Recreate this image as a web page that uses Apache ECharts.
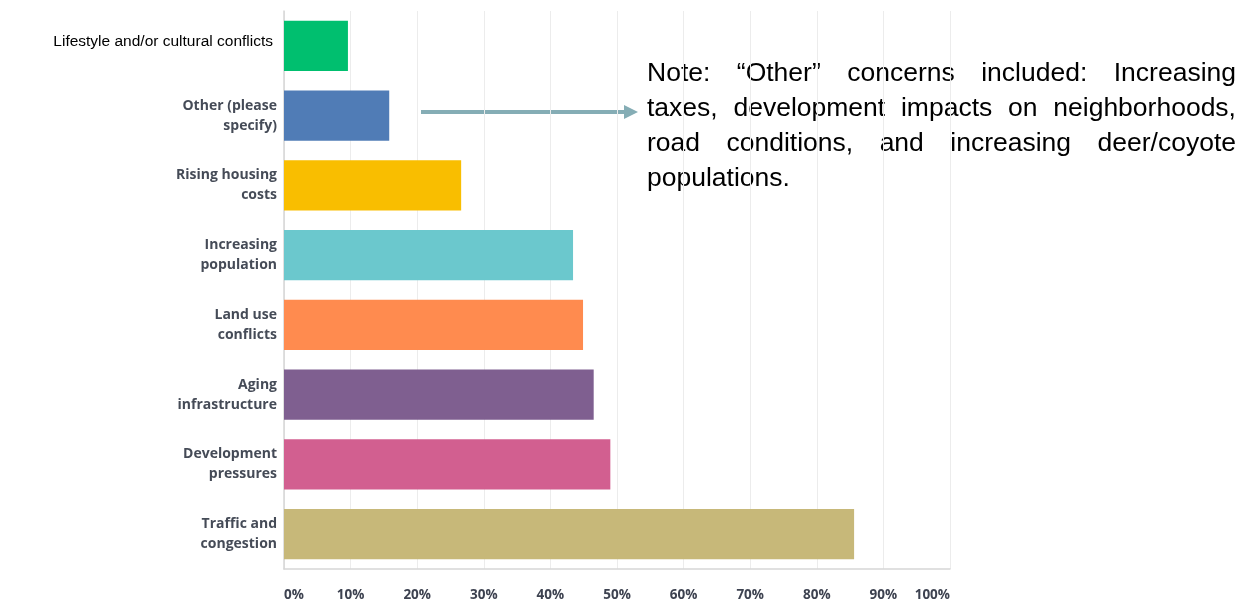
<!DOCTYPE html>
<html>
<head>
<meta charset="utf-8">
<script src="https://cdn.jsdelivr.net/npm/echarts@6/dist/echarts.min.js"></script>
<style>
html,body{margin:0;padding:0;background:#fff;}
#chart{width:1252px;height:604px;}
#measure{position:absolute;left:-9999px;top:0;white-space:pre;font-family:"Liberation Sans",Arial,sans-serif;font-size:26.5px;}
</style>
</head>
<body>
<div id="chart"></div>
<span id="measure"></span>
<script>
var categories = [
  "Lifestyle and/or cultural conflicts",
  "Other (please\nspecify)",
  "Rising housing\ncosts",
  "Increasing\npopulation",
  "Land use\nconflicts",
  "Aging\ninfrastructure",
  "Development\npressures",
  "Traffic and\ncongestion"
];
var values = [9.6, 15.8, 26.6, 43.4, 44.9, 46.5, 49.0, 85.6];
var barColors = ["#00bf6f", "#507cb6", "#f9be00", "#6bc8cd", "#ff8b4f", "#7f5f90", "#d25f90", "#c7b879"];
var tickValues = [0, 10, 20, 30, 40, 50, 60, 70, 80, 90, 100];
var noteLines = [
  "Note: \u201cOther\u201d concerns included: Increasing",
  "taxes, development impacts on neighborhoods,",
  "road conditions, and increasing deer/coyote",
  "populations."
];

var chart = echarts.init(document.getElementById('chart'), null, {renderer: 'canvas'});

// justified note text
var noteFont = '26.5px "Liberation Sans", Arial, sans-serif';
var span = document.getElementById('measure');
function textWidth(t) { span.textContent = t; return span.getBoundingClientRect().width; }
var noteLeft = 647, noteRight = 1236, noteTop = 60, noteLH = 35;
var noteGraphics = [];
noteLines.forEach(function (line, li) {
  var words = line.split(' ');
  var widths = words.map(function (w) { return textWidth(w); });
  var total = widths.reduce(function (a, b) { return a + b; }, 0);
  var last = li === noteLines.length - 1;
  var gap = (!last && words.length > 1) ? (noteRight - noteLeft - total) / (words.length - 1) : textWidth(' ');
  var x = noteLeft;
  words.forEach(function (w, wi) {
    noteGraphics.push({
      type: 'text',
      x: x, y: noteTop + li * noteLH,
      style: {text: w, font: noteFont, fill: '#000', textVerticalAlign: 'top'}
    });
    x += widths[wi] + gap;
  });
});

var option = {
  animation: false,
  backgroundColor: '#fff',
  grid: {left: 284, right: 302, top: 11, bottom: 35, containLabel: false},
  xAxis: {
    type: 'value', min: 0, max: 100, interval: 10,
    axisLine: {show: true, lineStyle: {color: '#d6d6d6', width: 1.5}},
    axisTick: {show: false},
    splitLine: {show: true, lineStyle: {color: '#ececec', width: 1}},
    axisLabel: {
      formatter: function (v) { return v + '%'; },
      color: '#3d4250', fontSize: 13.5, fontWeight: 'bold',
      fontFamily: '"Open Sans", sans-serif',
      margin: 19,
      alignMinLabel: 'left', alignMaxLabel: 'right'
    }
  },
  yAxis: {
    type: 'category', data: categories, inverse: true,
    axisLine: {show: true, lineStyle: {color: '#d6d6d6', width: 1.5}},
    axisTick: {show: false},
    axisLabel: {
      margin: 7,
      formatter: function (v, i) {
        return i === 0 ? '{a|' + v + '}' : v;
      },
      color: '#454b57', fontSize: 14, fontWeight: 'bold',
      fontFamily: '"Open Sans", sans-serif', lineHeight: 20, align: 'right',
      rich: {
        a: {color: '#000', fontSize: 15.5, fontWeight: 'normal', fontFamily: '"Liberation Sans", Arial, sans-serif', lineHeight: 20, padding: [0, 4, 8, 0]}
      }
    }
  },
  series: [{
    type: 'bar',
    data: values.map(function (v, i) { return {value: v, itemStyle: {color: barColors[i]}}; }),
    barCategoryGap: '28%'
  }],
  graphic: [
    {type: 'line', shape: {x1: 421, y1: 112, x2: 626, y2: 112}, style: {stroke: '#85adb5', lineWidth: 4}},
    {type: 'polygon', shape: {points: [[624, 105], [638, 112], [624, 119]]}, style: {fill: '#85adb5'}}
  ].concat(noteGraphics)
};
chart.setOption(option);
</script>
</body>
</html>
